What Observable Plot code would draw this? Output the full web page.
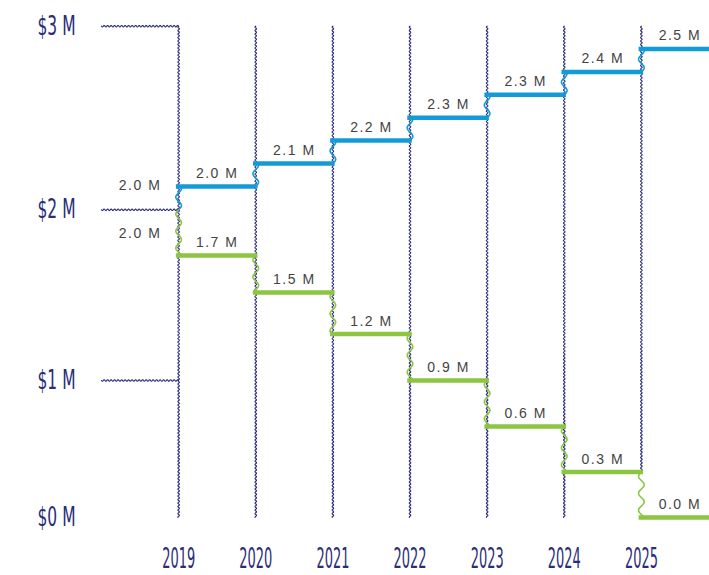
<!DOCTYPE html>
<html>
<head>
<meta charset="utf-8">
<script src="https://cdn.jsdelivr.net/npm/d3@7"></script>
<script src="https://cdn.jsdelivr.net/npm/@observablehq/plot@0.6"></script>
<style>
  html, body { margin: 0; padding: 0; background: #fff; overflow: hidden; }
  #chart svg { display: block; }
</style>
</head>
<body>
<div id="chart"></div>
<script>
// ---- data ----
const years = [2019, 2020, 2021, 2022, 2023, 2024, 2025];
const startValue = 2.0;
const startLabel = "2.0 M";
const blueValues = [2.127, 2.252, 2.377, 2.501, 2.626, 2.751, 2.876];
const blueLabels = ["2.0 M", "2.1 M", "2.2 M", "2.3 M", "2.3 M", "2.4 M", "2.5 M"];
const greenValues = [1.732, 1.516, 1.272, 1.0, 0.664, 0.332, 0.0];
const greenLabels = ["1.7 M", "1.5 M", "1.2 M", "0.9 M", "0.6 M", "0.3 M", "0.0 M"];
const yTicks = [0, 1, 2, 3];
const yTickLabels = ["$0 M", "$1 M", "$2 M", "$3 M"];
const gridBottom = [0, 0, 0, 0, 0, 0, 0.332];

const BLUE = "#139bd8", GREEN = "#8cc540", NAVY = "#2b2d78", TEXT = "#444";

// wavy curve factory (hand-drawn look), applied in screen space
function wavy(amp, wavelength) {
  return function (context) {
    let pts = [];
    return {
      areaStart() {}, areaEnd() {},
      lineStart() { pts = []; },
      point(x, y) { pts.push([+x, +y]); },
      lineEnd() {
        if (!pts.length) return;
        context.moveTo(pts[0][0], pts[0][1]);
        for (let i = 1; i < pts.length; i++) {
          const [x0, y0] = pts[i - 1], [x1, y1] = pts[i];
          const dx = x1 - x0, dy = y1 - y0, L = Math.hypot(dx, dy);
          if (L === 0) continue;
          const nx = -dy / L, ny = dx / L;
          const n = Math.max(2, Math.ceil(L / 0.5));
          for (let j = 1; j <= n; j++) {
            const t = j / n, s = t * L;
            const off = amp * Math.sin(2 * Math.PI * s / wavelength);
            context.lineTo(x0 + dx * t + nx * off, y0 + dy * t + ny * off);
          }
        }
      }
    };
  };
}

function segs(series, values, labels) {
  return years.map((yr, i) => ({series, year: yr, v: values[i], label: labels[i]}));
}
function connectors(series, values) {
  return years.flatMap((yr, i) => [
    {id: series + i, x: yr, y: i ? values[i - 1] : startValue},
    {id: series + i, x: yr, y: values[i]}
  ]);
}

const segments = [...segs("blue", blueValues, blueLabels), ...segs("green", greenValues, greenLabels)];
const blueLinks = connectors("blue", blueValues);
const greenLinks = connectors("green", greenValues);
const gridV = years.flatMap((yr, i) => [
  {id: "v" + i, x: yr, y: yTicks[yTicks.length - 1]},
  {id: "v" + i, x: yr, y: gridBottom[i]}
]);
const gridH = yTicks.filter(t => t > 0).flatMap(t => [
  {id: "h" + t, x: years[0] - 1, y: t},
  {id: "h" + t, x: years[0], y: t}
]);

const FONT_T = "Liberation Sans, Arial, sans-serif";
const FONT_A = "DejaVu Sans Condensed, Liberation Sans Narrow, sans-serif";

const svg = Plot.plot({
  width: 709,
  height: 575,
  margin: 0,
  x: {type: "linear", domain: [years[0] - 1, years[years.length - 1] + 1], range: [101, 718], axis: null},
  y: {type: "linear", domain: yTicks, range: [517, 380, 209.3, 25.7], axis: null},
  marks: [
    Plot.line(gridV, {x: "x", y: "y", z: "id", stroke: NAVY, strokeWidth: 1.1, curve: wavy(0.8, 3.5)}),
    Plot.line(gridH, {x: "x", y: "y", z: "id", stroke: NAVY, strokeWidth: 1.1, curve: wavy(0.8, 3.5)}),
    Plot.line(blueLinks, {x: "x", y: "y", z: "id", stroke: BLUE, strokeWidth: 1.6, curve: wavy(2.8, 17)}),
    Plot.line(greenLinks, {x: "x", y: "y", z: "id", stroke: GREEN, strokeWidth: 1.6, curve: wavy(2.8, 17)}),
    Plot.ruleY(segments, {
      y: "v", x1: "year", x2: d => d.year + 1,
      stroke: d => d.series === "blue" ? BLUE : GREEN,
      strokeWidth: 4.5, strokeLinecap: "square"
    }),
    Plot.text(segments, {
      x: d => d.year + 0.5, y: "v", text: "label", dy: -13,
      fill: TEXT, fontSize: 14, fontFamily: FONT_T, ariaLabel: () => "vlabel"
    }),
    Plot.text([startValue], {
      x: years[0] - 0.5, y: d => d, text: () => startLabel, dy: -24,
      fill: TEXT, fontSize: 14, fontFamily: FONT_T, ariaLabel: () => "vlabel"
    }),
    Plot.text([startValue], {
      x: years[0] - 0.5, y: d => d, text: () => startLabel, dy: 24,
      fill: TEXT, fontSize: 14, fontFamily: FONT_T, ariaLabel: () => "vlabel"
    }),
    Plot.text(yTicks, {
      y: d => d, text: (d, i) => yTickLabels[i], frameAnchor: "left", dx: 75,
      textAnchor: "end", fill: NAVY, fontSize: 26, fontFamily: FONT_A,
      ariaLabel: () => "ylabel"
    }),
    Plot.text(years, {
      x: d => d, text: d => String(d), frameAnchor: "bottom", dy: -8,
      fill: NAVY, fontSize: 28, fontFamily: FONT_A,
      ariaLabel: () => "xlabel"
    })
  ]
});

function textsFor(label) {
  const out = [];
  svg.querySelectorAll('[aria-label="' + label + '"]').forEach(el => {
    if (el.tagName.toLowerCase() === "text") out.push(el);
    else el.querySelectorAll("text").forEach(t => out.push(t));
  });
  return out;
}
textsFor("vlabel").forEach(t => t.setAttribute("letter-spacing", "1.5"));
textsFor("xlabel").forEach(t => {
  t.setAttribute("textLength", "33");
  t.setAttribute("lengthAdjust", "spacingAndGlyphs");
});
textsFor("ylabel").forEach(t => {
  t.setAttribute("textLength", "38");
  t.setAttribute("lengthAdjust", "spacingAndGlyphs");
});

document.getElementById("chart").appendChild(svg);
</script>
</body>
</html>
